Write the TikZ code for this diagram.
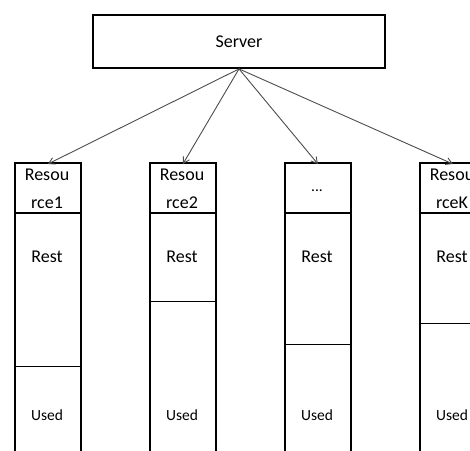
\documentclass[tikz,border=0pt]{standalone}
\usepackage{fontspec}
\setmainfont{Carlito}
\usetikzlibrary{arrows.meta}
\begin{document}
\begin{tikzpicture}[x=1pt,y=-1pt,
  box/.style={draw, line width=1.8pt, inner sep=0pt},
  divider/.style={draw, line width=0.8pt},
  lbl/.style={font=\fontsize{18}{20}\selectfont, inner sep=0pt},
  small/.style={font=\fontsize{15.5}{17}\selectfont, inner sep=0pt},
  link/.style={draw=black!70, line width=0.9pt, -{Straight Barb[length=6pt,width=7pt]}}]
\useasboundingbox (0,0) rectangle (470,450);
\clip (0,0) rectangle (470,450);
% server
\node[box, lbl, minimum width=292pt, minimum height=53pt] (server) at (239,41.5) {Server};
% columns
\foreach \i/\x/\d in {1/14/366, 2/149/301, 3/284/344, 4/419/323}{
  \node[box, minimum width=66pt, minimum height=50pt, anchor=north west] (h\i) at (\x,162) {};
  \node[box, minimum width=66pt, minimum height=262pt, anchor=north west] (b\i) at (\x,212) {};
  \coordinate (d\i) at (\x+33,\d);
  \draw[divider] (d\i -| b\i.west) -- (d\i -| b\i.east);
  \node[lbl] (rest\i) at (\x+33,257) {Rest};
  \node[small] (used\i) at (\x+33,415) {Used};
}
% header texts
\node[lbl] (t1a) at (47,175) {Resou};
\node[lbl] (t1b) at (47,203) {rce1};
\node[lbl] (t2a) at (182,175) {Resou};
\node[lbl] (t2b) at (182,203) {rce2};
\node[small] (t3) at (317,191) {...};
\node[lbl] (t4a) at (452,175) {Resou};
\node[lbl] (t4b) at (452,203) {rceK};
% arrows
\foreach \i in {1,2,3,4}{
  \draw[link] (server.south) -- ([yshift=-2pt]h\i.north);
}
\end{tikzpicture}
\end{document}
